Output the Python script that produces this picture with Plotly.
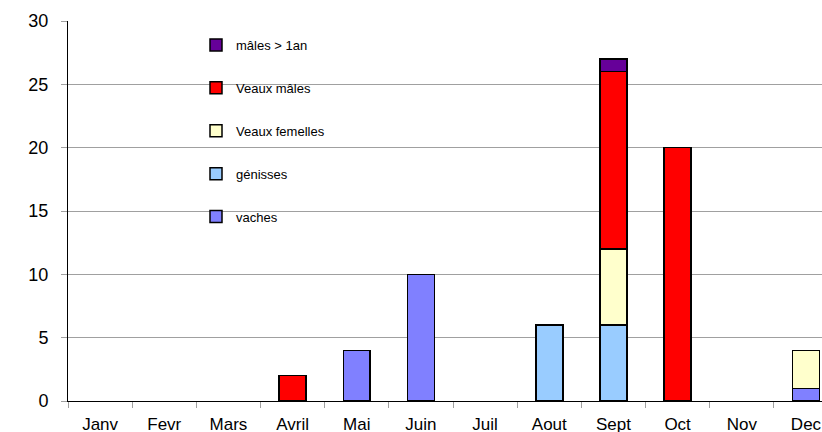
import plotly.graph_objects as go

months = ["Janv", "Fevr", "Mars", "Avril", "Mai", "Juin", "Juil", "Aout", "Sept", "Oct", "Nov", "Dec"]
vaches = [0, 0, 0, 0, 4, 10, 0, 0, 0, 0, 0, 1]
genisses = [0, 0, 0, 0, 0, 0, 0, 6, 6, 0, 0, 0]
veaux_femelles = [0, 0, 0, 0, 0, 0, 0, 0, 6, 0, 0, 3]
veaux_males = [0, 0, 0, 2, 0, 0, 0, 0, 14, 20, 0, 0]
males_1an = [0, 0, 0, 0, 0, 0, 0, 0, 1, 0, 0, 0]

series = [
    ("vaches", vaches, "#8080FF"),
    ("génisses", genisses, "#99CCFF"),
    ("Veaux femelles", veaux_femelles, "#FFFFCC"),
    ("Veaux mâles", veaux_males, "#FF0000"),
    ("mâles > 1an", males_1an, "#660099"),
]

FONT = "Liberation Sans, Arial, sans-serif"

fig = go.Figure()
n = len(series)
for i, (name, vals, color) in enumerate(series):
    fig.add_trace(go.Bar(
        x=months, y=[v if v else None for v in vals], name=name,
        marker=dict(color=color, line=dict(color="black", width=1.5)),
        width=0.42, legendgroup=f"g{i}", legendrank=n - i,
    ))

W, H = 822, 432
L, T, B, R = 68, 21, 31, 0
pw, ph = W - L - R, H - T - B

def px_x(p):
    return (p - L) / pw

def px_y(p):
    return (H - B - p) / ph

fig.add_shape(type="rect", xref="paper", yref="paper",
              x0=px_x(177), x1=px_x(377), y0=px_y(240), y1=px_y(23),
              fillcolor="white", line=dict(width=0), layer="between")

fig.update_layout(
    width=W, height=H,
    margin=dict(l=L, r=R, t=T, b=B, autoexpand=False),
    barmode="stack",
    paper_bgcolor="white", plot_bgcolor="white",
    font=dict(family=FONT, color="black"),
    showlegend=True,
    legend=dict(
        x=px_x(196), y=px_y(30), xanchor="left", yanchor="top",
        bgcolor="rgba(0,0,0,0)", font=dict(size=13, family=FONT),
        traceorder="grouped", tracegroupgap=23, itemwidth=30,
    ),
    xaxis=dict(
        type="category", range=[-0.5, 11.25], automargin=False,
        showline=True, linecolor="black", linewidth=1,
        ticks="outside", ticklen=6, tickcolor="#A0A0A0", tickson="boundaries",
        showgrid=False, zeroline=False, ticklabelstandoff=8,
        tickfont=dict(size=17, family=FONT),
    ),
    yaxis=dict(
        range=[0, 30], dtick=5, tick0=0, automargin=False,
        showline=True, linecolor="black", linewidth=1,
        ticks="outside", ticklen=6, tickcolor="#A0A0A0",
        showgrid=True, gridcolor="#A0A0A0", gridwidth=1,
        zeroline=False, ticklabelstandoff=9,
        tickfont=dict(size=18, family=FONT),
    ),
)

fig.write_html(
    "out.html",
    config={"displayModeBar": False},
    post_script="document.body.style.margin='0';document.body.style.overflow='hidden';",
)
